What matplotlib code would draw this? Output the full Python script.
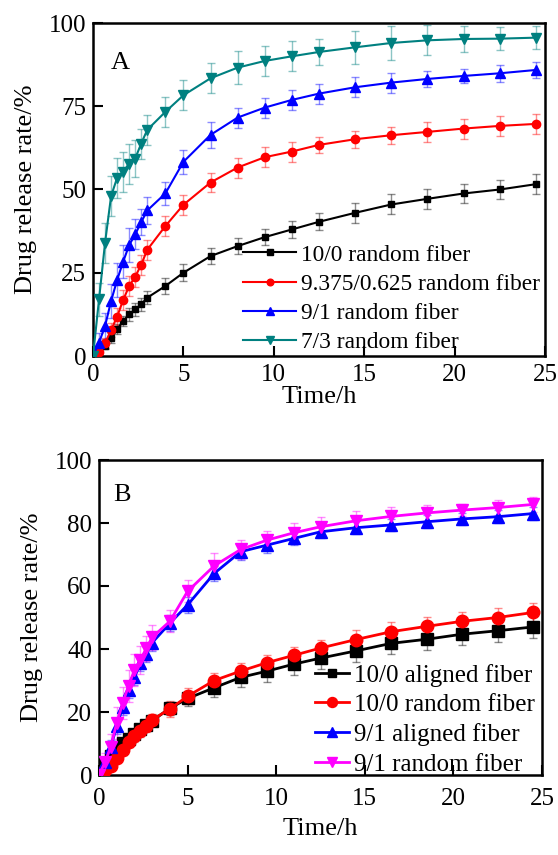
import matplotlib
matplotlib.use("Agg")
import matplotlib.pyplot as plt
from matplotlib.colors import to_rgba

plt.rcParams['font.family'] = ['Liberation Serif', 'DejaVu Serif']
plt.rcParams['mathtext.fontset'] = 'stix'

# ---------------- data ----------------
time_h = [0, 1/3, 2/3, 1, 4/3, 5/3, 2, 7/3, 8/3, 3, 4, 5, 6.5, 8, 9.5, 11, 12.5,
          14.5, 16.5, 18.5, 20.5, 22.5, 24.5]

# Panel A
rand_10_0 = [0, 1.5, 3.0, 5.5, 8.0, 10.5, 12.5, 14.0, 15.5, 17.5, 21.0, 25.0, 30.0,
             33.0, 35.7, 38.0, 40.3, 43.0, 45.5, 47.2, 48.8, 50.0, 51.6]
rand_10_0_err = [0.5, 1, 1, 1.5, 1.5, 1.5, 2, 2, 2, 2, 2.5, 2.5, 2.5, 2.5, 2.5, 2.5, 2.5,
                 3, 3, 3, 3, 3, 3]
rand_9375 = [0, 1.3, 3.8, 7.8, 11.8, 16.8, 21.0, 23.8, 27.4, 31.9, 39.0, 45.4, 52.1,
             56.6, 59.7, 61.4, 63.4, 65.1, 66.3, 67.3, 68.3, 69.1, 69.7]
rand_9375_err = [0.5, 1, 1.5, 2, 2.5, 3, 3, 3, 3, 3, 3, 3, 3, 3, 3, 3, 2.5, 2.5, 2.5,
                 3, 3, 3, 3]
rand_9_1 = [0, 4.0, 9.0, 16.5, 22.8, 28.3, 33.3, 36.5, 40.2, 43.7, 48.8, 58.3, 66.4,
            71.6, 74.6, 76.9, 78.8, 80.7, 82.1, 83.2, 84.1, 84.9, 85.9]
rand_9_1_err = [1, 3, 4, 5, 5, 5, 5, 4.5, 4, 4, 3.5, 3.5, 4, 3, 3, 3, 3, 3, 3, 2.5,
                2, 2.5, 2.5]
rand_7_3 = [0, 17.0, 34.0, 48.0, 53.5, 55.3, 57.8, 59.3, 63.8, 67.9, 73.3, 78.3,
            83.4, 86.6, 88.6, 90.0, 91.3, 92.7, 94.0, 94.8, 95.2, 95.3, 95.6]
rand_7_3_err = [1, 5, 6, 6, 6, 6, 6, 5.5, 4.5, 4.5, 4.5, 4.5, 4.5, 5, 4.5, 4.5, 4,
                5, 5, 4.5, 4, 3.5, 3.5]

# Panel B
align_10_0 = [1.6, 3.7, 6.0, 7.9, 10.1, 11.3, 13.0, 14.5, 15.9, 17.2, 21.2, 24.3,
              27.7, 31.0, 33.0, 35.2, 37.1, 39.4, 41.8, 43.1, 44.7, 45.8, 47.0]
align_10_0_err = [0.5, 1, 1, 1, 1, 1, 1, 1.5, 1.5, 1.5, 2, 2.5, 3, 3, 3.5, 3.5, 3.5,
                  3.5, 3.5, 3.5, 3.5, 3.5, 3.5]
align_9_1 = [0, 4.0, 9.0, 15.5, 21.5, 27.0, 31.0, 35.5, 38.5, 42.0, 48.2, 54.0, 64.0,
             70.9, 73.0, 75.1, 77.2, 78.5, 79.4, 80.4, 81.3, 82.0, 83.0]
align_9_1_err = [0.5, 1.5, 2, 2.5, 2.5, 2.5, 2.5, 2.5, 2.5, 2.5, 2.5, 2.5, 2.5, 2.5,
                 2.5, 2, 2, 2, 2, 2, 2, 2, 2]

labels_A = ["10/0 random fiber", "9.375/0.625 random fiber", "9/1 random fiber",
            "7/3 random fiber"]
labels_B = ["10/0 aligned fiber", "10/0 random fiber", "9/1 aligned fiber",
            "9/1 random fiber"]
yticks_A = [0, 25, 50, 75, 100]
yticks_B = [0, 20, 40, 60, 80, 100]
xticks = [0, 5, 10, 15, 20, 25]

# ---------------- figure ----------------
fig = plt.figure(figsize=(5.58, 8.55), dpi=100)
W, H = 558, 855


def px_axes(l, t, r, b):
    return fig.add_axes([l / W, 1 - b / H, (r - l) / W, (b - t) / H])


axA = px_axes(93, 23, 545, 356)
axB = px_axes(99, 460, 542, 775)


def series(ax, y, e, color, marker, ms, lw, label):
    ax.errorbar(time_h, y, yerr=e, fmt='none', ecolor=to_rgba(color, 0.45),
                elinewidth=1.0, capsize=3, capthick=1.0, zorder=2)
    ax.plot(time_h, y, color=color, marker=marker, ms=ms, lw=lw, label=label,
            zorder=3)


series(axA, rand_10_0, rand_10_0_err, 'black', 's', 5, 1.5, labels_A[0])
series(axA, rand_9375, rand_9375_err, 'red', 'o', 6, 1.5, labels_A[1])
series(axA, rand_9_1, rand_9_1_err, 'blue', '^', 6.5, 1.5, labels_A[2])
series(axA, rand_7_3, rand_7_3_err, '#008080', 'v', 6.5, 1.5, labels_A[3])

series(axB, align_10_0, align_10_0_err, 'black', 's', 8, 2.0, labels_B[0])
series(axB, rand_10_0, rand_10_0_err, 'red', 'o', 9, 2.0, labels_B[1])
series(axB, align_9_1, align_9_1_err, 'blue', '^', 9, 2.0, labels_B[2])
series(axB, rand_9_1, rand_9_1_err, '#FF00FF', 'v', 9, 2.0, labels_B[3])

for ax, yt, xpad, lpad in ((axA, yticks_A, 6, 0), (axB, yticks_B, 9, 6)):
    ax.set_xlim(0, 25)
    ax.set_ylim(0, 100)
    ax.set_xticks(xticks)
    ax.set_yticks(yt)
    ax.tick_params(direction='in', length=7, width=1.5, labelsize=18, pad=5)
    ax.tick_params(axis='x', pad=xpad)
    for s in ax.spines.values():
        s.set_linewidth(1.8)
    ax.set_xlabel("Time/h", fontsize=19, labelpad=lpad)
    ax.set_ylabel("Drug release rate/%", fontsize=19, labelpad=8)

axA.text(1.0, 88, "A", fontsize=19, va='center', ha='left')
axB.text(0.8, 89, "B", fontsize=19, va='center', ha='left')

axA.legend(loc='lower right', frameon=False, fontsize=16.8, handlelength=2.3,
           handletextpad=0.2, labelspacing=0.34, borderaxespad=0.0, borderpad=0.0,
           markerscale=0.8, bbox_to_anchor=(0.989, 0.008))
axB.legend(loc='lower right', frameon=False, fontsize=18, handlelength=1.35,
           handletextpad=0.2, labelspacing=0.28, borderaxespad=0.0, borderpad=0.0,
           markerscale=0.8, bbox_to_anchor=(0.984, -0.002))

fig.savefig("out.png", dpi=100)
